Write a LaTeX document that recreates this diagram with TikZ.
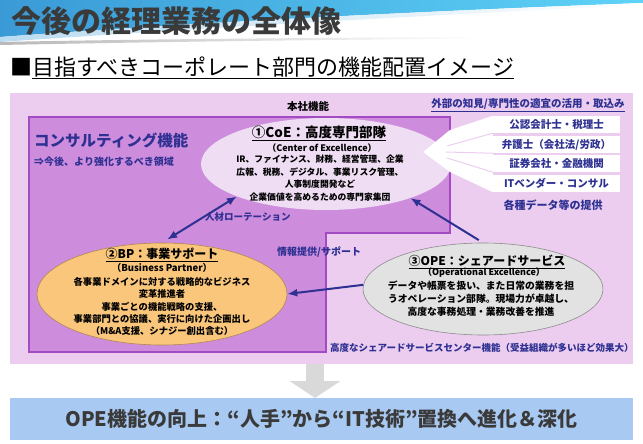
\documentclass[tikz,border=0pt]{standalone}
\usepackage{fontspec}
\setmainfont{Noto Sans CJK JP}
\usetikzlibrary{arrows.meta,shapes.geometric}
\definecolor{outerpink}{HTML}{ECCDF0}
\definecolor{innerpurple}{HTML}{CE8CDD}
\definecolor{innerborder}{HTML}{A24BC2}
\definecolor{coefill}{HTML}{EEDDF3}
\definecolor{navy}{HTML}{2E3192}
\definecolor{bpfill}{HTML}{F9C67C}
\definecolor{bpedge}{HTML}{B08850}
\definecolor{opefill}{HTML}{E2E2E2}
\definecolor{opeedge}{HTML}{8C8C8C}
\definecolor{bottomblue}{HTML}{A8C9F2}
\definecolor{darktext}{HTML}{3A3A3A}
\definecolor{bannerA}{HTML}{3A9AD6}
\definecolor{bannerB}{HTML}{5ED3F7}
\definecolor{arrowgray}{HTML}{D9D9D9}
\begin{document}
\begin{tikzpicture}[x=1pt,y=-1pt,
  >={Latex[length=10pt,width=8pt]},
  lbl/.style={inner sep=0pt, align=center},
  navytxt/.style={lbl, text=navy, font=\fontsize{10}{12}\selectfont\bfseries},
  conn/.style={draw=navy, line width=2pt},
  extbox/.style={fill=white, minimum width=127pt, minimum height=17pt, inner sep=0pt, text=navy, font=\fontsize{10.5}{12}\selectfont\bfseries},
  ellbox/.style={ellipse, inner sep=0pt},
]
\useasboundingbox (0,0) rectangle (643,444);
\fill[white] (0,0) rectangle (643,444);
% banner
\shade[left color=bannerA, right color=bannerB] (0,0) -- (643,0) -- (643,3) .. controls (450,10) and (200,22) .. (0,37) -- cycle;
\shade[left color=bannerA!35, right color=white] (0,37) .. controls (200,22) and (450,10) .. (643,3) -- (643,5) .. controls (450,14) and (200,28) .. (0,42) -- cycle;
\shade[left color=gray!55, right color=white] (0,42) .. controls (150,39) and (300,38) .. (480,37) -- (480,38.5) .. controls (300,40) and (150,42) .. (0,45) -- cycle;
\node[lbl, anchor=west, text=darktext, font=\fontsize{30}{30}\selectfont\bfseries] (title) at (11,21) {今後の経理業務の全体像};
\node[lbl, anchor=west, text=black, font=\fontsize{22}{22}\selectfont] (subtitle) at (10,68) {■\underline{目指すべきコーポレート部門の機能配置イメージ}};
% frames
\node[fill=outerpink, minimum width=623pt, minimum height=271pt, inner sep=0pt, anchor=north west] (outer) at (10,93) {};
\filldraw[fill=innerpurple, draw=innerborder, line width=1.2pt] (29,117) -- (450,117) -- (450,233) -- (326,233) -- (326,352) -- (29,352) -- cycle;
\node[lbl, font=\fontsize{10.5}{12}\selectfont\bfseries] (honsha) at (308,106) {本社機能};
\node[navytxt, font=\fontsize{10.5}{12}\selectfont\bfseries] (gaibu) at (528,105) {\underline{外部の知見/専門性の適宜の活用・取込み}};
\node[navytxt, anchor=west, font=\fontsize{15.5}{18}\selectfont\bfseries] (consul) at (34,140) {コンサルティング機能};
\node[navytxt, anchor=west, font=\fontsize{10}{12}\selectfont\bfseries] (consul2) at (34,162) {⇒今後、より強化するべき領域};
% CoE
\node[ellbox, fill=coefill, minimum width=250pt, minimum height=92pt] (coe) at (326,164) {};
\node[lbl, font=\fontsize{13.5}{15}\selectfont\bfseries] (coeT) at (319,133) {\underline{①CoE：高度専門部隊}};
\node[lbl, font=\fontsize{9}{10}\selectfont\bfseries] (coeS) at (322,148) {（Center of Excellence）};
\node[lbl, font=\fontsize{8.8}{12.5}\selectfont\bfseries] (coeB) at (320,178) {IR、ファイナンス、財務、経営管理、企業\\広報、税務、デジタル、事業リスク管理、\\人事制度開発など\\企業価値を高めるための専門家集団};
% external
\node[extbox] (ext1) at (556.5,124.5) {公認会計士・税理士};
\node[extbox] (ext2) at (556.5,144.5) {弁護士（会社法/労政）};
\node[extbox] (ext3) at (556.5,163.5) {証券会社・金融機関};
\node[extbox] (ext4) at (556.5,183.5) {ITベンダー・コンサル};
\coordinate (wtip) at (423,152);
\fill[white] (ext1.north west) -- (450,130) -- (wtip) -- (450,172) -- (ext4.south west) -- cycle;
\draw[outerpink, line width=1pt] (ext1.south west) -- (447,146);
\draw[outerpink, line width=1pt] (ext2.south west) -- (446,152);
\draw[outerpink, line width=1pt] (ext3.south west) -- (447,158);
\node[navytxt, font=\fontsize{11}{12}\selectfont\bfseries] (data) at (553,205) {各種データ等の提供};
% BP
\node[ellbox, fill=bpfill, draw=bpedge, line width=0.6pt, minimum width=250pt, minimum height=102pt] (bp) at (162,294) {};
\node[lbl, font=\fontsize{12}{14}\selectfont\bfseries] (bpT) at (162,255) {\underline{②BP：事業サポート}};
\node[lbl, font=\fontsize{9.5}{11}\selectfont\bfseries] (bpS) at (162,268) {（Business Partner）};
\node[lbl, font=\fontsize{9.3}{12.25}\selectfont\bfseries] (bpB) at (162,306.5) {各事業ドメインに対する戦略的なビジネス\\変革推進者\\事業ごとの機能戦略の支援、\\事業部門との協議、実行に向けた企画出し\\（M\&A支援、シナジー創出含む）};
% OPE
\node[ellbox, fill=opefill, draw=opeedge, line width=0.6pt, minimum width=240pt, minimum height=92pt] (ope) at (483,289) {};
\node[lbl, font=\fontsize{12}{14}\selectfont\bfseries] (opeT) at (487,262) {\underline{③OPE：シェアードサービス}};
\node[lbl, font=\fontsize{9}{11}\selectfont\bfseries] (opeS) at (484,273) {（Operational Excellence）};
\node[lbl, font=\fontsize{9.8}{13}\selectfont\bfseries] (opeB) at (481,299) {データや帳票を扱い、また日常の業務を担\\うオペレーション部隊。現場力が卓越し、\\高度な事務処理・業務改善を推進};
\node[navytxt, anchor=west, font=\fontsize{9.5}{11}\selectfont\bfseries] (ssc) at (330,348) {高度なシェアードサービスセンター機能（受益組織が多いほど効果大）};
% connectors
\draw[conn, <->, shorten <=6pt] (bp.north) -- (coe.200);
\draw[conn, ->, shorten <=5pt] (ope.north) -- (coe.-22);
\draw[conn, ->] (ope.178) -- (bp.east);
\node[navytxt, anchor=west, font=\fontsize{9.5}{11}\selectfont\bfseries] (rot) at (205,217) {人材ローテーション};
\node[navytxt, anchor=west] (info) at (277,252) {情報提供/サポート};
% bottom
\node[fill=bottomblue, minimum width=623pt, minimum height=42pt, inner sep=0pt, anchor=north west] (bottom) at (10,398) {};
\node[lbl, text=darktext, font=\fontsize{20}{22}\selectfont\bfseries] (bottomT) at (bottom.center) {OPE機能の向上：“人手”から“IT技術”置換へ進化＆深化};
\coordinate (gtop) at (315,364);
\draw[arrowgray, line width=18pt, -{Triangle[length=17pt,width=50pt]}] (gtop) -- (bottom.north -| gtop);
\end{tikzpicture}
\end{document}
